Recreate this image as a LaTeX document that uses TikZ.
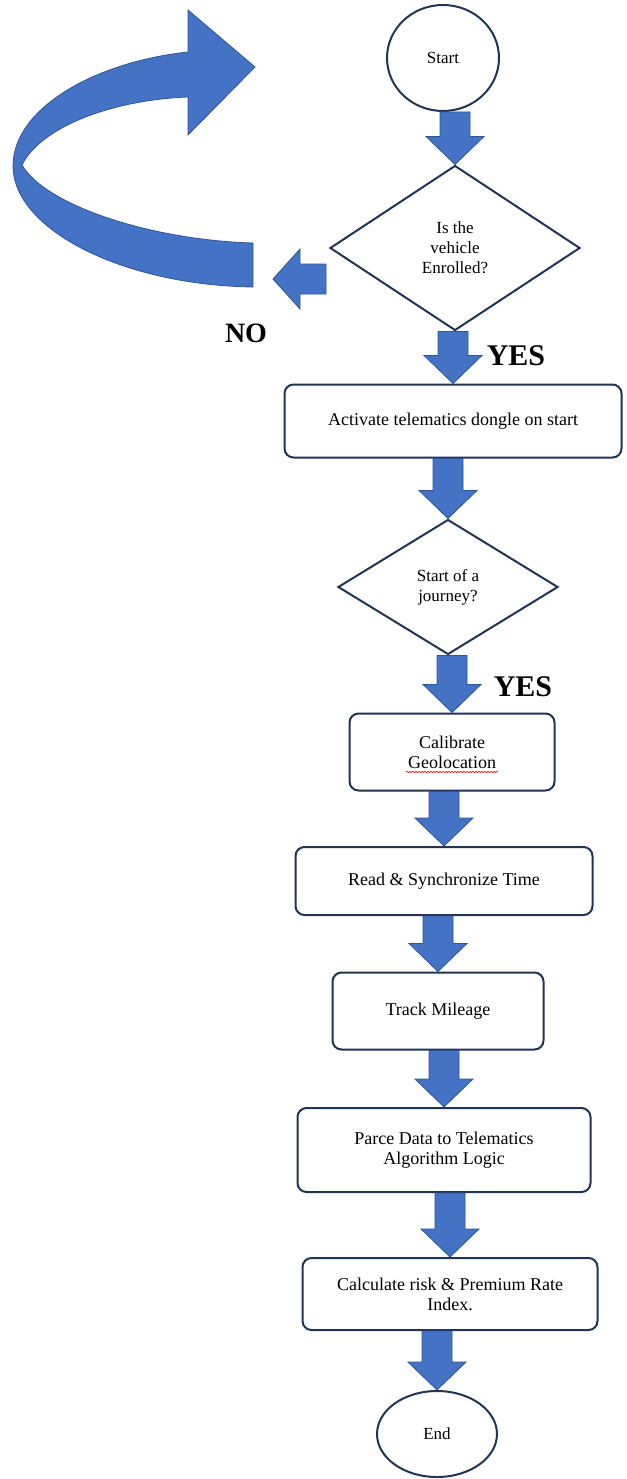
\documentclass[tikz,border=0pt]{standalone}
\usepackage{fontspec}
\setmainfont{Liberation Serif}
\usetikzlibrary{shapes.geometric, calc, decorations.pathmorphing}

\definecolor{arrowblue}{RGB}{68,114,196}
\definecolor{arrowedge}{RGB}{47,85,151}
\definecolor{boxline}{RGB}{34,52,84}

\tikzset{
  process/.style={rectangle, rounded corners=9pt, draw=boxline, line width=2pt, fill=white,
    align=center, inner sep=2pt, font=\fontsize{18}{20}\selectfont},
  decision/.style={diamond, draw=boxline, line width=2pt, fill=white,
    align=center, inner sep=0pt, font=\fontsize{17}{20}\selectfont},
  terminal/.style={ellipse, draw=boxline, line width=2pt, fill=white,
    inner sep=0pt, font=\fontsize{17}{20}\selectfont},
  answer/.style={font=\bfseries\fontsize{30}{30}\selectfont},
  blockarrow/.style={fill=arrowblue, draw=arrowedge, line width=0.8pt, line join=miter}
}

% block arrow going down from #1 to the tip at #2
\newcommand\flowarrow[2]{%
  \path[blockarrow] let \p1=(#1), \p2=(#2) in
    (\x2-15,\y1) -- (\x2+15,\y1) -- (\x2+15,\y2+28) -- (\x2+29,\y2+28)
    -- (\x2,\y2) -- (\x2-29,\y2+28) -- (\x2-15,\y2+28) -- cycle;}

\begin{document}
\begin{tikzpicture}[x=1pt, y=-1pt]
\useasboundingbox (0,0) rectangle (626,1479);
% Nodes
\node[terminal, minimum width=112pt, minimum height=106pt] (start) at (443,58) {Start};
\node[decision, minimum width=250pt, minimum height=165pt] (enrol) at (455,248) {Is the\\vehicle\\Enrolled?};
\node[process, minimum width=337pt, minimum height=73pt] (dongle) at (453,421) {Activate telematics dongle on start};
\node[decision, minimum width=220pt, minimum height=135pt] (journey) at (448,587) {Start of a\\journey?};
\node[process, minimum width=205pt, minimum height=77pt] (cal) at (452,752) {Calibrate\\Geolocation};
\node[process, minimum width=297pt, minimum height=68pt] (sync) at (444,881) {Read \& Synchronize Time};
\node[process, minimum width=211pt, minimum height=77pt] (track) at (438,1011) {Track Mileage};
\node[process, minimum width=293pt, minimum height=84pt] (parse) at (444,1150) {Parce Data to Telematics\\Algorithm Logic};
\node[process, minimum width=295pt, minimum height=72pt] (calc) at (450,1294) {Calculate risk \& Premium Rate\\Index.};
\node[terminal, minimum width=120pt, minimum height=86pt] (end) at (437,1434) {End};
\draw[red, line width=0.6pt, decorate, decoration={snake, amplitude=0.7pt, segment length=3pt}]
  ($(cal.center)+(-46,20)$) -- ($(cal.center)+(46,20)$);
% Labels
\node[answer] (yes1) at (516,356) {YES};
\node[answer] (yes2) at (523,687) {YES};
\node[answer, font=\bfseries\fontsize{28}{28}\selectfont] (no) at (246,333) {NO};
% Arrows
\flowarrow{start.south}{enrol.north}
\flowarrow{enrol.south}{dongle.north}
\flowarrow{dongle.south}{journey.north}
\flowarrow{journey.south}{cal.north}
\flowarrow{cal.south}{sync.north}
\flowarrow{sync.south}{track.north}
\flowarrow{track.south}{parse.north}
\flowarrow{parse.south}{calc.north}
\flowarrow{calc.south}{end.north}
% NO branch
\coordinate (notail) at (326,279);
\coordinate (notip) at (273,279);
\path[blockarrow] let \p1=(notail), \p2=(notip) in
  (\x1,\y1-15) -- (\x1,\y1+15) -- (\x2+27,\y1+15) -- (\x2+27,\y1+30)
  -- (\x2,\y1) -- (\x2+27,\y1-30) -- (\x2+27,\y1-15) -- cycle;
% loop back
\path[blockarrow] (253,287) -- (253,243) .. controls (150,240) and (45,205) .. (22,165)
  .. controls (40,128) and (110,100) .. (188,97) -- (188,135) -- (255,67) -- (188,10) -- (188,52)
  .. controls (95,62) and (14,108) .. (13,165) .. controls (12,228) and (120,285) .. (253,287) -- cycle;
\end{tikzpicture}
\end{document}
